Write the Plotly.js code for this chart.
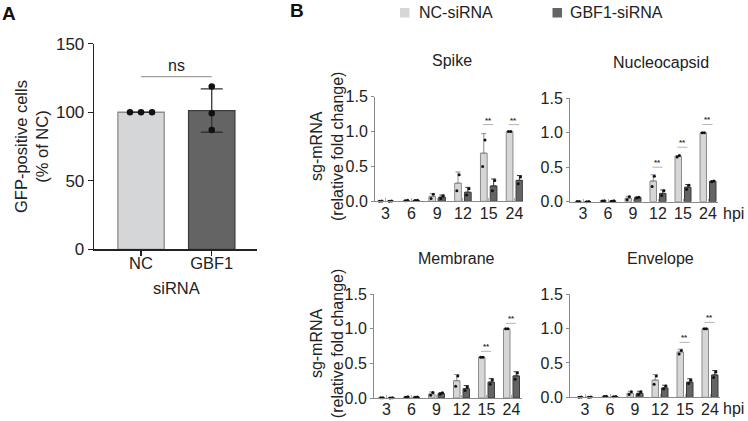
<!DOCTYPE html>
<html><head><meta charset="utf-8">
<script src="https://cdn.plot.ly/plotly-3.0.1.min.js"></script>
<style>html,body{margin:0;padding:0;background:#fff}#chart{width:748px;height:421px}</style>
</head><body><div id="chart"></div>
<script>
const FONT = 'Liberation Sans, Arial, Helvetica, sans-serif';
const W = 748, H = 421;
const px = p => p / W;
const py = p => 1 - p / H;

// ---------- Panel A data ----------
const sirnaCats = ['NC', 'GBF1'];
const gfpMean = [100, 101.2];
const gfpSD = [0, 15.8];
const gfpNCpoints = [100, 100, 100];
const gfpGBF1points = [118.7, 99.3, 87.1];
const gfpTicks = [0, 50, 100, 150];
const gfpSigY = 126;

// ---------- Panel B data ----------
const hpi = ['3', '6', '9', '12', '15', '24'];
const seriesNames = ['NC-siRNA', 'GBF1-siRNA'];
const bTicks = [0, 0.5, 1.0, 1.5];
const bTickText = ['0.0', '0.5', '1.0', '1.5'];

const spikeNC      = [0.003, 0.012, 0.07, 0.26, 0.69, 1.0];
const spikeNCsd    = [0.002, 0.004, 0.04, 0.16, 0.28, 0.004];
const spikeNCr1    = [0.005, 0.015, 0.10, 0.38, 0.88, 1.0];
const spikeNCr2    = [0.001, 0.009, 0.04, 0.15, 0.50, 1.0];
const spikeGB      = [0.002, 0.012, 0.06, 0.13, 0.22, 0.30];
const spikeGBsd    = [0.002, 0.003, 0.03, 0.07, 0.10, 0.07];
const spikeGBr1    = [0.003, 0.014, 0.08, 0.18, 0.30, 0.35];
const spikeGBr2    = [0.001, 0.010, 0.04, 0.09, 0.15, 0.25];
const spikeSigCat  = [4, 5];
const spikeSigY    = [1.10, 1.10];

const nucNC        = [0.003, 0.012, 0.05, 0.30, 0.66, 1.0];
const nucNCsd      = [0.002, 0.004, 0.03, 0.09, 0.01, 0.003];
const nucNCr1      = [0.004, 0.015, 0.07, 0.37, 0.67, 1.0];
const nucNCr2      = [0.002, 0.009, 0.03, 0.22, 0.65, 1.0];
const nucGB        = [0.002, 0.010, 0.06, 0.12, 0.21, 0.295];
const nucGBsd      = [0.001, 0.003, 0.01, 0.05, 0.04, 0.006];
const nucGBr1      = [0.003, 0.012, 0.065, 0.16, 0.24, 0.30];
const nucGBr2      = [0.001, 0.008, 0.055, 0.09, 0.18, 0.29];
const nucSigCat    = [3, 4, 5];
const nucSigY      = [0.50, 0.79, 1.12];

const memNC        = [0.003, 0.015, 0.058, 0.25, 0.59, 1.0];
const memNCsd      = [0.002, 0.004, 0.03, 0.09, 0.003, 0.003];
const memNCr1      = [0.004, 0.018, 0.08, 0.32, 0.59, 1.0];
const memNCr2      = [0.002, 0.012, 0.04, 0.17, 0.59, 1.0];
const memGB        = [0.002, 0.012, 0.063, 0.135, 0.23, 0.32];
const memGBsd      = [0.001, 0.003, 0.015, 0.045, 0.05, 0.06];
const memGBr1      = [0.003, 0.014, 0.075, 0.16, 0.26, 0.36];
const memGBr2      = [0.001, 0.010, 0.055, 0.11, 0.20, 0.27];
const memSigCat    = [4, 5];
const memSigY      = [0.675, 1.08];

const envNC        = [0.002, 0.012, 0.058, 0.25, 0.66, 1.0];
const envNCsd      = [0.001, 0.003, 0.03, 0.08, 0.04, 0.003];
const envNCr1      = [0.003, 0.014, 0.08, 0.31, 0.68, 1.0];
const envNCr2      = [0.001, 0.010, 0.04, 0.19, 0.63, 1.0];
const envGB        = [0.002, 0.010, 0.058, 0.136, 0.22, 0.325];
const envGBsd      = [0.001, 0.003, 0.03, 0.04, 0.05, 0.065];
const envGBr1      = [0.003, 0.012, 0.08, 0.165, 0.25, 0.37];
const envGBr2      = [0.001, 0.008, 0.04, 0.12, 0.20, 0.29];
const envSigCat    = [4, 5];
const envSigY      = [0.80, 1.09];

// ---------- styles ----------
const NC_FILL = '#d5d6d8', NC_LINE = '#8c8c8c';
const GB_FILL = '#646464', GB_LINE = '#3c3c3c';
const TXT = '#222';

const traces = [];
const shapes = [];
const annotations = [];
function note(o) {
  annotations.push(Object.assign({xref: 'paper', yref: 'paper', showarrow: false,
    xanchor: 'center', yanchor: 'middle'}, o));
}

// Panel A traces
traces.push({
  type: 'bar', x: [0, 1], y: gfpMean, width: 0.655,
  marker: {color: [NC_FILL, GB_FILL], line: {color: [NC_LINE, GB_LINE], width: 1.3}},
  error_y: {type: 'data', array: gfpSD, visible: true, color: '#333', thickness: 1.3, width: 11},
  xaxis: 'x', yaxis: 'y', showlegend: false, hoverinfo: 'skip'
});
traces.push({
  type: 'scatter', mode: 'markers',
  x: gfpNCpoints.map((v, i) => -0.156 + i * 0.156), y: gfpNCpoints,
  marker: {color: '#111', size: 6.5}, xaxis: 'x', yaxis: 'y', showlegend: false, cliponaxis: false
});
traces.push({
  type: 'scatter', mode: 'markers',
  x: gfpGBF1points.map(() => 1), y: gfpGBF1points,
  marker: {color: '#111', size: 6.5}, xaxis: 'x', yaxis: 'y', showlegend: false, cliponaxis: false
});
shapes.push({type: 'line', xref: 'x', yref: 'y', x0: 0, x1: 1, y0: gfpSigY, y1: gfpSigY,
  line: {color: '#a0a0a0', width: 1.2}});
note({xref: 'x', yref: 'y', x: 0.5, y: gfpSigY, yanchor: 'bottom', yshift: 1,
  text: 'ns', font: {family: FONT, size: 16, color: TXT}});

// Panel B
const panels = [
  {ax: 2, title: 'Spike', tx: 452, nc: spikeNC, ncsd: spikeNCsd, ncr: [spikeNCr1, spikeNCr2],
   gb: spikeGB, gbsd: spikeGBsd, gbr: [spikeGBr1, spikeGBr2], sc: spikeSigCat, sy: spikeSigY,
   xd: [375, 523], xr: [-0.41, 5.33], yd: [201.3, 96.7], hpiLabel: false, ytitle: true},
  {ax: 3, title: 'Nucleocapsid', tx: 661, nc: nucNC, ncsd: nucNCsd, ncr: [nucNCr1, nucNCr2],
   gb: nucGB, gbsd: nucGBsd, gbr: [nucGBr1, nucGBr2], sc: nucSigCat, sy: nucSigY,
   xd: [570, 718], xr: [-0.52, 5.4], yd: [201.7, 98.3], hpiLabel: true, ytitle: false},
  {ax: 4, title: 'Membrane', tx: 456, nc: memNC, ncsd: memNCsd, ncr: [memNCr1, memNCr2],
   gb: memGB, gbsd: memGBsd, gbr: [memGBr1, memGBr2], sc: memSigCat, sy: memSigY,
   xd: [374, 522], xr: [-0.5, 5.42], yd: [398, 294.3], hpiLabel: false, ytitle: true},
  {ax: 5, title: 'Envelope', tx: 660, nc: envNC, ncsd: envNCsd, ncr: [envNCr1, envNCr2],
   gb: envGB, gbsd: envGBsd, gbr: [envGBr1, envGBr2], sc: envSigCat, sy: envSigY,
   xd: [570, 720], xr: [-0.6, 5.4], yd: [397.3, 294.3], hpiLabel: true, ytitle: false}
];

const layout = {
  width: W, height: H, margin: {l: 0, r: 0, t: 0, b: 0},
  paper_bgcolor: '#fff', plot_bgcolor: 'rgba(0,0,0,0)',
  font: {family: FONT, color: TXT}, barmode: 'overlay', showlegend: false,
  xaxis: {domain: [px(94), px(257)], range: [-0.665, 1.64], tickvals: [0, 1], ticktext: sirnaCats,
    showline: true, linecolor: '#222', linewidth: 1.3, ticks: 'outside', ticklen: 5, tickwidth: 1.2,
    tickcolor: '#222', showgrid: false, zeroline: false, tickfont: {size: 16.5, color: TXT},
    ticklabelstandoff: -6, anchor: 'y', fixedrange: true},
  yaxis: {domain: [py(249.3), py(43.7)], range: [0, 150], tickvals: gfpTicks,
    showline: true, linecolor: '#222', linewidth: 1.3, ticks: 'outside', ticklen: 5, tickwidth: 1.2,
    tickcolor: '#222', showgrid: false, zeroline: false, tickfont: {size: 17, color: TXT},
    anchor: 'x', fixedrange: true},
  shapes: shapes, annotations: annotations
};

panels.forEach(p => {
  const xa = 'x' + p.ax, ya = 'y' + p.ax;
  const idx = hpi.map((_, i) => i);
  traces.push({type: 'bar', x: idx, y: p.nc, width: 0.26, offset: -0.32, name: seriesNames[0],
    marker: {color: NC_FILL, line: {color: NC_LINE, width: 1}},
    error_y: {type: 'data', symmetric: false, array: p.ncsd, arrayminus: p.nc.map(() => 0),
      color: '#8a8a8a', thickness: 1, width: 2.5},
    xaxis: xa, yaxis: ya, showlegend: false, hoverinfo: 'skip'});
  traces.push({type: 'bar', x: idx, y: p.gb, width: 0.26, offset: 0.06, name: seriesNames[1],
    marker: {color: GB_FILL, line: {color: GB_LINE, width: 1}},
    error_y: {type: 'data', symmetric: false, array: p.gbsd, arrayminus: p.gb.map(() => 0),
      color: '#3a3a3a', thickness: 1, width: 2.5},
    xaxis: xa, yaxis: ya, showlegend: false, hoverinfo: 'skip'});
  [[p.ncr, -0.19], [p.gbr, 0.19]].forEach(([reps, off]) => {
    reps.forEach((r, k) => {
      traces.push({type: 'scatter', mode: 'markers',
        x: idx.map(i => i + off + (k === 0 ? 0.045 : -0.045)), y: r,
        marker: {color: '#111', size: 3}, xaxis: xa, yaxis: ya, showlegend: false,
        cliponaxis: false, hoverinfo: 'skip'});
    });
  });
  layout['xaxis' + p.ax] = {domain: [px(p.xd[0]), px(p.xd[1])], range: p.xr,
    tickvals: idx, ticktext: hpi, showline: true, linecolor: '#8a8a8a', linewidth: 1,
    ticks: 'inside', ticklen: 3, tickcolor: '#b0b0b0', tickwidth: 1,
    showgrid: false, zeroline: false, tickfont: {size: 16, color: TXT},
    ticklabelstandoff: -3, anchor: ya, fixedrange: true};
  layout['yaxis' + p.ax] = {domain: [py(p.yd[0]), py(p.yd[1])], range: [0, 1.5],
    tickvals: bTicks, ticktext: bTickText, showline: true, linecolor: '#8a8a8a', linewidth: 1,
    ticks: 'outside', ticklen: 3, tickcolor: '#8a8a8a', tickwidth: 1,
    showgrid: false, zeroline: false, tickfont: {size: 16, color: TXT}, anchor: xa, fixedrange: true};
  // significance
  p.sc.forEach((c, j) => {
    shapes.push({type: 'line', xref: xa, yref: ya, x0: c - 0.22, x1: c + 0.18, y0: p.sy[j], y1: p.sy[j],
      line: {color: '#b5b5b5', width: 1}});
    note({xref: xa, yref: ya, x: c - 0.02, y: p.sy[j], yanchor: 'bottom', yshift: -2,
      text: '<b>**</b>', font: {family: FONT, size: 8, color: '#333'}});
  });
  // subplot title
  note({x: px(p.tx), y: py(p.yd[1] - 36), text: p.title, font: {family: FONT, size: 16, color: TXT}});
  if (p.hpiLabel) {
    note({x: px(733), y: py(p.yd[0] + 11.5), text: 'hpi', font: {family: FONT, size: 16, color: TXT}});
  }
  if (p.ytitle) {
    note({x: px(327), y: py((p.yd[0] + p.yd[1]) / 2 - 2),
      text: 'sg-mRNA<br>(relative fold change)', textangle: -90,
      font: {family: FONT, size: 16, color: TXT}});
  }
});

// Panel A labels
note({x: px(176), y: py(288), text: 'siRNA', font: {family: FONT, size: 16.5, color: TXT}});
note({x: px(31), y: py(147), text: 'GFP-positive cells<br>(% of NC)', textangle: -90,
  font: {family: FONT, size: 16.5, color: TXT}});
// panel letters
note({x: px(8.5), y: py(13.5), text: '<b>A</b>', font: {family: FONT, size: 19, color: '#111'}});
note({x: px(296.5), y: py(11), text: '<b>B</b>', font: {family: FONT, size: 19, color: '#111'}});
// legend
shapes.push({type: 'rect', xref: 'paper', yref: 'paper', x0: px(400), x1: px(409.5), y0: py(17.5), y1: py(8),
  fillcolor: NC_FILL, line: {width: 0}});
shapes.push({type: 'rect', xref: 'paper', yref: 'paper', x0: px(552.5), x1: px(562), y0: py(17.5), y1: py(8),
  fillcolor: GB_FILL, line: {width: 0}});
note({x: px(417), y: py(13), xanchor: 'left', text: seriesNames[0], font: {family: FONT, size: 16, color: TXT}});
note({x: px(568), y: py(13), xanchor: 'left', text: seriesNames[1], font: {family: FONT, size: 16, color: TXT}});

Plotly.newPlot('chart', traces, layout, {displayModeBar: false, staticPlot: true});
</script></body></html>
